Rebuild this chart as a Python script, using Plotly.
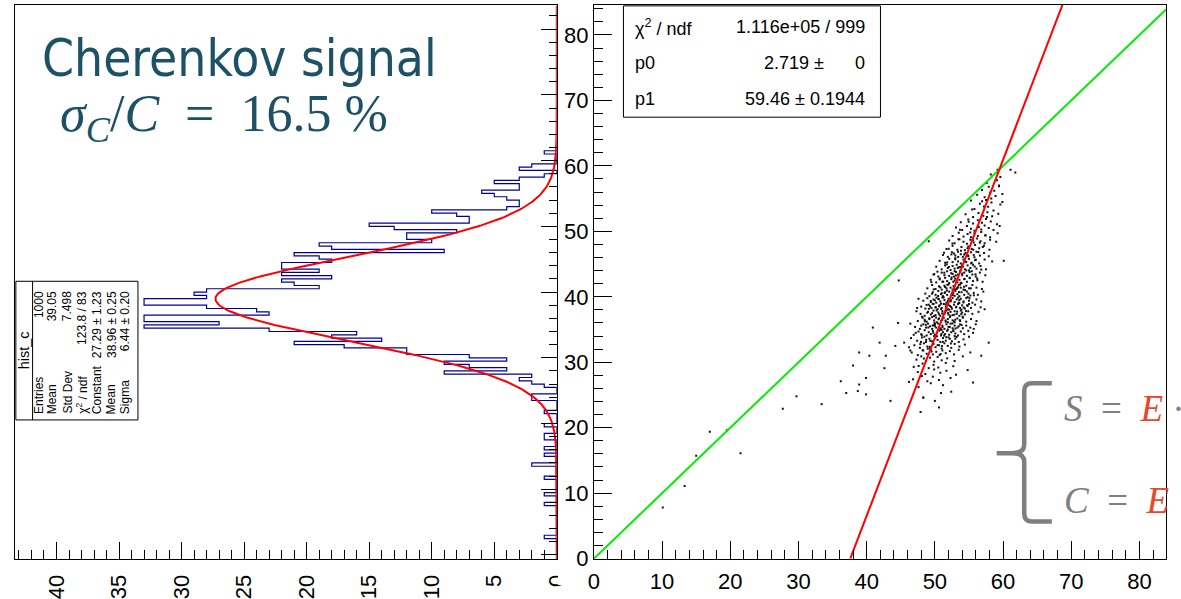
import math
import plotly.graph_objects as go

W, H = 1181, 599

# ---------------------------------------------------------------- data ----
# hist_c : counts per 0.5-wide bin of C, starting at C = 0
bin_width = 0.5
hist_c_counts = [
    0, 0, 0, 0, 0, 1, 0, 0, 0, 0,            # 0.0 - 5.0
    0, 0, 0, 0, 0, 1, 0, 0, 1, 0,            # 5.0 - 10.0
    0, 0, 0, 1, 0, 0, 0, 2, 0, 0,            # 10.0 - 15.0
    1, 0, 1, 0, 0, 1, 1, 0, 0, 1,            # 15.0 - 20.0
    0, 0, 0, 1, 0, 0, 0, 2, 2, 0,            # 20.0 - 25.0
    0, 1, 2, 3, 2, 9, 4, 7, 9, 4,            # 25.0 - 30.0
    7, 12, 12, 17, 21, 14, 18, 16, 23, 33,   # 30.0 - 35.0
    27, 33, 33, 23, 24, 28, 33, 33, 28, 29,  # 35.0 - 40.0
    28, 19, 21, 22, 18, 22, 19, 22, 22, 18,  # 40.0 - 45.0
    19, 21, 9, 18, 19, 10, 12, 12, 8, 13,    # 45.0 - 50.0
    15, 7, 7, 8, 10, 4, 3, 3, 4, 5,          # 50.0 - 55.0
    6, 3, 3, 5, 3, 1, 0, 3, 2, 0,            # 55.0 - 60.0
    0, 0, 1,                                 # 60.0 - 61.5
]

# Gaussian fit of hist_c
gaus_constant, gaus_mean, gaus_sigma = 27.29, 38.96, 6.44

# linear fit of C versus S : C = p0 * (S - p1) + p1
fit_p0, fit_p1 = 2.719, 59.46

# stat box rows
hist_stat_labels = ["Entries", "Mean", "Std Dev", "χ<sup>2</sup> / ndf", "Constant", "Mean", "Sigma"]
hist_stat_values = ["1000", "39.05", "7.498", "123.8 / 83", "27.29 ± 1.23", "38.96 ± 0.25", "6.44 ± 0.20"]

# (S, C) events
sc_points = [
    (10.1, 7.8), (13.3, 11.1), (15.0, 15.7), (17.0, 19.4), (19.5, 19.6), (21.5, 16.1),
    (27.7, 22.9), (29.7, 24.8), (33.4, 23.6), (36.2, 27.1), (37.0, 25.3),
    (38.9, 31.5), (40.4, 31.0), (38.0, 29.5), (39.9, 27.6), (38.9, 26.6), (38.7, 25.6),
    (39.9, 25.1), (42.8, 31.0), (44.2, 32.5), (42.6, 29.1), (43.5, 24.1), (46.2, 27.0),
    (48.3, 24.6), (50.0, 24.1), (46.4, 31.8), (40.9, 35.3), (44.7, 42.5), (45.5, 33.0),
    (49.1, 48.5), (57.9, 33.0), (56.8, 31.0), (54.8, 28.8), (60.1, 45.5), (61.1, 59.4),
    (59.9, 54.5), (59.4, 57.0), (61.8, 59.0), (47.9, 22.4), (50.6, 23.1), (52.4, 25.5),
    (55.6, 26.9), (41.9, 33.0), (44.6, 36.0),
    (48.3, 24.6), (50.9, 25.3),
    (47.6, 26.2), (49.4, 26.8), (51.2, 26.5),
    (46.8, 27.4), (48.9, 27.1), (49.7, 27.8), (50.6, 27.3), (52.3, 27.6), (48.1, 27.9),
    (47.5, 28.5), (48.6, 28.2), (49.9, 28.9), (50.8, 28.4), (51.7, 28.7), (53.1, 28.1),
    (46.9, 29.3), (48.2, 29.8), (49.1, 29.1), (49.8, 29.6), (50.5, 29.2), (51.6, 29.9), (52.7, 29.4),
    (47.3, 30.4), (48.0, 30.9), (48.7, 30.2), (49.3, 30.7), (49.9, 30.1), (50.4, 30.8), (51.0, 30.3),
    (51.8, 30.6), (52.9, 30.2), (54.1, 30.9),
    (46.6, 31.5), (47.5, 31.1), (48.3, 31.8), (48.8, 31.3), (49.4, 31.9), (49.7, 31.2), (50.2, 31.6),
    (50.7, 31.1), (51.1, 31.8), (51.6, 31.4), (52.2, 31.7), (52.8, 31.2), (53.5, 31.9), (55.2, 31.5),
    (47.0, 32.6), (47.8, 32.2), (48.4, 32.9), (48.9, 32.4), (49.3, 32.1), (49.8, 32.8), (50.1, 32.3),
    (50.6, 32.6), (51.0, 32.1), (51.4, 32.9), (51.9, 32.5), (52.4, 32.2), (52.9, 32.8), (53.6, 32.4),
    (54.4, 32.7), (46.2, 32.3),
    (47.4, 33.3), (48.1, 33.8), (48.7, 33.1), (49.2, 33.6), (49.6, 33.2), (50.0, 33.9), (50.4, 33.4),
    (50.8, 33.1), (51.2, 33.7), (51.6, 33.3), (52.0, 33.8), (52.5, 33.2), (53.0, 33.6), (53.5, 33.1),
    (54.2, 33.5), (55.0, 33.9), (46.5, 33.7),
    (46.9, 34.2), (47.6, 34.7), (48.0, 34.3), (48.5, 34.9), (48.8, 34.1), (49.1, 34.6), (49.4, 34.3),
    (49.7, 34.8), (50.0, 34.2), (50.3, 34.5), (50.6, 34.9), (50.9, 34.1), (51.2, 34.6), (51.5, 34.3),
    (51.8, 34.8), (52.1, 34.2), (52.4, 34.6), (52.7, 34.9), (53.0, 34.4), (53.4, 34.1), (53.8, 34.7),
    (54.3, 34.3), (54.9, 34.8), (55.6, 34.5), (47.2, 34.5), (49.9, 34.0), (51.0, 34.95), (52.9, 34.0),
    (47.1, 35.4), (47.8, 35.1), (48.3, 35.8), (48.7, 35.3), (49.0, 35.9), (49.3, 35.5), (49.6, 35.1),
    (49.9, 35.7), (50.2, 35.3), (50.5, 35.9), (50.8, 35.2), (51.1, 35.6), (51.4, 35.1), (51.7, 35.8),
    (52.0, 35.4), (52.3, 35.9), (52.6, 35.2), (52.9, 35.6), (53.3, 35.3), (53.7, 35.8), (54.1, 35.2),
    (54.6, 35.6), (55.2, 35.3), (56.0, 35.8), (48.0, 35.6), (50.0, 35.5), (51.9, 35.0), (53.5, 35.5),
    (46.4, 35.9), (55.7, 35.1),
    (47.5, 36.3), (48.2, 36.8), (48.8, 36.2), (49.2, 36.6), (49.6, 36.9), (49.9, 36.4), (50.3, 36.1),
    (50.6, 36.7), (50.9, 36.3), (51.3, 36.8), (51.6, 36.2), (51.9, 36.6), (52.2, 36.9), (52.6, 36.4),
    (52.9, 36.1), (53.3, 36.7), (53.7, 36.3), (54.1, 36.8), (54.6, 36.2), (55.3, 36.6), (56.1, 36.3),
    (48.5, 36.5), (51.1, 36.5), (53.0, 36.5),
    (47.9, 37.4), (48.5, 37.1), (49.0, 37.7), (49.4, 37.3), (49.8, 37.9), (50.1, 37.2), (50.5, 37.6),
    (50.8, 37.1), (51.1, 37.8), (51.4, 37.4), (51.7, 37.9), (52.0, 37.3), (52.3, 37.7), (52.6, 37.2),
    (52.9, 37.8), (53.2, 37.4), (53.6, 37.1), (54.0, 37.6), (54.4, 37.3), (54.9, 37.8), (55.5, 37.4),
    (56.4, 37.7), (49.6, 37.5), (51.9, 37.55), (53.8, 37.9), (47.3, 37.8),
    (48.0, 38.5), (48.6, 38.2), (49.1, 38.8), (49.5, 38.3), (49.8, 38.9), (50.1, 38.4), (50.4, 38.1),
    (50.7, 38.7), (51.0, 38.3), (51.3, 38.9), (51.6, 38.5), (51.9, 38.1), (52.2, 38.6), (52.5, 38.2),
    (52.8, 38.8), (53.1, 38.4), (53.4, 38.9), (53.7, 38.3), (54.0, 38.7), (54.4, 38.2), (54.8, 38.6),
    (55.3, 38.3), (55.9, 38.8), (56.7, 38.4), (49.3, 38.55), (50.9, 38.95), (52.4, 38.45), (53.9, 38.05),
    (47.4, 38.3), (50.6, 38.55), (52.0, 38.8), (55.0, 38.9), (57.3, 38.1),
    (48.3, 39.4), (48.9, 39.8), (49.4, 39.2), (49.8, 39.6), (50.2, 39.1), (50.5, 39.7), (50.8, 39.3),
    (51.1, 39.9), (51.4, 39.5), (51.7, 39.1), (52.0, 39.7), (52.3, 39.3), (52.6, 39.8), (52.9, 39.2),
    (53.2, 39.6), (53.5, 39.1), (53.8, 39.7), (54.2, 39.3), (54.6, 39.8), (55.0, 39.4), (55.5, 39.1),
    (56.1, 39.6), (56.8, 39.3), (47.6, 39.7), (50.0, 39.45), (51.9, 39.35), (53.6, 39.5), (54.8, 39.95),
    (48.6, 40.5), (49.2, 40.1), (49.7, 40.7), (50.1, 40.3), (50.5, 40.9), (50.9, 40.4), (51.2, 40.1),
    (51.5, 40.7), (51.8, 40.3), (52.1, 40.8), (52.4, 40.2), (52.7, 40.6), (53.0, 40.9), (53.3, 40.4),
    (53.6, 40.1), (53.9, 40.7), (54.3, 40.3), (54.7, 40.8), (55.2, 40.2), (55.7, 40.6), (56.3, 40.3),
    (57.1, 40.8), (51.0, 40.55), (52.9, 40.15),
    (48.9, 41.3), (49.6, 41.8), (50.1, 41.2), (50.6, 41.6), (51.0, 41.1), (51.4, 41.7), (51.7, 41.3),
    (52.0, 41.9), (52.3, 41.4), (52.6, 41.1), (52.9, 41.6), (53.2, 41.2), (53.5, 41.8), (53.8, 41.4),
    (54.2, 41.1), (54.6, 41.7), (55.0, 41.3), (55.5, 41.8), (56.1, 41.4), (56.9, 41.2), (51.5, 41.5),
    (53.4, 41.45),
    (49.4, 42.6), (50.2, 42.2), (50.7, 42.8), (51.1, 42.3), (51.5, 42.9), (51.8, 42.4), (52.1, 42.1),
    (52.4, 42.7), (52.7, 42.3), (53.0, 42.8), (53.3, 42.2), (53.6, 42.6), (53.9, 42.1), (54.3, 42.7),
    (54.7, 42.3), (55.1, 42.9), (55.6, 42.4), (56.2, 42.8), (57.0, 42.3), (52.9, 42.5),
    (49.8, 43.4), (50.5, 43.1), (51.0, 43.7), (51.4, 43.3), (51.8, 43.9), (52.1, 43.2), (52.4, 43.6),
    (52.8, 43.1), (53.1, 43.8), (53.4, 43.4), (53.7, 43.9), (54.0, 43.3), (54.3, 43.7), (54.7, 43.2),
    (55.1, 43.8), (55.5, 43.4), (56.0, 43.1), (56.6, 43.7), (57.4, 43.3), (52.6, 43.5),
    (50.2, 44.6), (51.0, 44.2), (51.5, 44.8), (51.9, 44.4), (52.3, 44.1), (52.6, 44.7), (52.9, 44.3),
    (53.2, 44.9), (53.5, 44.5), (53.8, 44.1), (54.1, 44.6), (54.4, 44.2), (54.8, 44.8), (55.2, 44.4),
    (55.6, 44.9), (56.1, 44.3), (56.7, 44.7), (57.5, 44.2), (53.7, 44.55), (55.0, 44.05),
    (50.7, 45.5), (51.5, 45.2), (52.1, 45.8), (52.6, 45.3), (53.0, 45.9), (53.4, 45.4), (53.8, 45.1),
    (54.2, 45.7), (54.6, 45.3), (55.0, 45.8), (55.4, 45.2), (55.9, 45.6), (56.5, 45.1), (57.3, 45.7),
    (58.4, 45.4),
    (51.2, 46.4), (51.9, 46.1), (52.5, 46.8), (53.0, 46.3), (53.4, 46.9), (53.8, 46.5), (54.1, 46.1),
    (54.5, 46.7), (54.9, 46.2), (55.3, 46.8), (55.7, 46.4), (56.1, 46.9), (56.6, 46.3), (57.2, 46.7),
    (57.9, 46.2), (54.3, 46.45), (55.8, 46.05), (52.8, 46.6),
    (51.7, 47.3), (52.6, 47.8), (53.3, 47.2), (53.9, 47.6), (54.4, 47.1), (54.9, 47.7), (55.4, 47.3),
    (55.9, 47.9), (56.5, 47.4), (57.2, 47.8), (58.0, 47.2),
    (52.1, 48.6), (52.9, 48.2), (53.6, 48.8), (54.2, 48.4), (54.7, 48.1), (55.2, 48.7), (55.7, 48.3),
    (56.2, 48.9), (56.7, 48.5), (57.3, 48.2), (58.1, 48.7), (59.0, 48.4),
    (52.6, 49.3), (53.5, 49.8), (54.2, 49.2), (54.8, 49.6), (55.3, 49.1), (55.8, 49.7), (56.3, 49.3),
    (56.8, 49.9), (57.4, 49.4), (58.1, 49.1), (59.2, 49.7),
    (53.1, 50.6), (54.0, 50.2), (54.7, 50.8), (55.3, 50.4), (55.8, 50.1), (56.3, 50.7), (56.8, 50.3),
    (57.3, 50.9), (57.9, 50.5), (58.6, 50.2), (59.5, 50.8),
    (53.8, 51.4), (54.9, 51.8), (55.6, 51.2), (56.3, 51.7), (56.9, 51.3), (57.5, 51.9), (58.2, 51.5),
    (59.1, 51.1),
    (54.5, 52.6), (55.6, 52.2), (56.4, 52.8), (57.1, 52.4), (57.7, 52.9), (58.4, 52.3), (59.3, 52.7),
    (55.8, 53.4), (57.2, 53.8), (58.6, 53.2),
    (55.3, 54.7), (56.6, 54.2), (57.5, 54.8), (58.3, 54.4), (59.6, 54.1),
    (56.2, 55.6), (57.3, 55.2), (58.1, 55.9), (58.9, 55.4), (59.9, 55.7),
    (56.9, 56.3), (57.9, 56.8), (58.7, 56.2), (59.4, 56.9),
    (57.6, 57.4), (59.1, 57.8),
    (58.2, 58.7), (59.6, 58.3),
    (59.2, 59.4),
    (48.73, 33.42), (50.17, 36.83), (51.36, 34.07), (52.84, 37.26), (49.52, 31.64), (53.41, 39.88),
    (50.93, 38.12), (47.86, 32.77), (54.28, 41.53), (51.77, 40.96), (49.04, 35.31), (52.19, 33.58),
    (53.66, 36.44), (50.48, 40.12), (55.12, 42.86), (48.39, 30.57), (51.03, 32.48), (52.57, 35.93),
    (54.73, 38.71), (50.66, 34.85), (53.08, 43.27), (49.87, 37.06), (51.59, 38.84), (55.84, 44.62),
    (47.62, 29.43), (52.93, 41.17), (50.31, 33.97), (53.92, 35.68), (49.18, 36.72), (54.46, 45.39),
    (51.22, 42.31), (48.07, 34.16), (52.38, 39.47), (50.84, 31.26), (56.37, 46.83), (49.68, 38.93),
    (53.27, 37.74), (51.91, 36.11), (54.92, 40.48), (48.96, 32.08), (52.06, 44.57), (50.02, 35.84),
    (55.41, 43.91), (51.48, 37.62), (53.79, 42.14), (49.33, 33.29), (52.71, 34.76), (50.59, 39.63),
    (54.08, 36.97), (48.54, 36.28), (51.84, 41.82), (53.14, 38.49), (55.63, 47.18), (50.26, 37.91),
    (52.47, 42.96), (49.76, 34.51), (54.61, 44.03), (51.12, 35.37), (53.53, 40.72), (48.21, 31.84),
    (56.02, 45.67), (50.79, 41.44), (52.26, 37.09), (49.41, 39.36), (54.19, 39.14), (51.67, 33.83),
    (53.36, 44.42), (50.41, 32.62), (55.27, 41.29), (48.88, 37.57), (52.81, 36.24), (51.29, 39.92),
    (54.87, 46.31), (49.94, 36.05), (53.71, 41.88), (50.97, 34.34), (52.63, 40.27), (47.97, 33.11),
    (55.96, 43.44), (51.38, 43.68), (53.02, 35.15), (49.59, 40.47), (54.36, 42.73), (50.13, 38.38),
    (52.34, 32.87), (56.58, 48.26), (51.73, 44.95), (53.87, 37.39), (48.67, 35.73), (55.08, 39.79),
    (50.53, 36.57), (52.98, 45.73), (49.26, 32.36), (54.57, 37.82), (51.97, 39.24), (53.42, 46.09),
    (50.71, 42.67), (48.13, 36.94), (57.03, 47.61), (52.12, 38.03), (49.83, 41.13), (54.01, 43.56),
    (51.56, 36.38), (53.18, 33.87), (55.71, 40.23), (50.37, 43.84), (52.74, 41.62), (49.12, 38.17),
    (54.79, 47.42), (51.08, 37.46), (53.58, 39.06), (48.46, 33.91), (56.24, 42.53), (50.88, 35.02),
    (52.42, 46.48), (49.69, 35.62), (55.33, 45.12), (51.43, 40.58), (53.96, 44.78), (50.06, 33.68),
    (57.42, 49.37), (52.19, 35.41), (49.47, 42.24), (54.24, 38.36), (51.81, 45.27), (53.29, 41.39),
    (50.62, 37.33), (55.59, 48.64), (48.79, 38.76), (52.89, 43.91), (51.17, 33.12), (53.84, 47.02),
    (50.23, 39.87), (56.81, 44.16), (49.91, 43.46), (54.42, 41.02), (52.58, 48.13), (51.34, 46.72),
    (53.67, 50.24), (55.19, 49.82), (52.03, 47.35), (54.96, 51.46), (56.45, 50.67), (53.45, 48.81),
    (57.64, 52.18), (55.47, 53.32), (56.93, 54.61), (58.27, 55.03), (57.81, 53.74),
]

# ------------------------------------------------------------- layout ----
SANS = "Liberation Sans, Arial, Helvetica, sans-serif"
SERIF = "Liberation Serif, Times New Roman, serif"
TITLE_FONT = "DejaVu Sans Condensed, DejaVu Sans, Verdana, sans-serif"
TEAL = "#1d5266"
GREY = "#7f7f7f"
ORANGE = "#e8472a"

# pad frames, in pixels of the canvas
LEFT_PAD = dict(x0=9.5, x1=559.3, y0=5.6, y1=572.3)
RIGHT_PAD = dict(x0=597.0, x1=1178.0, y0=5.0, y1=572.0)

left_count_max = 43.29
left_c_range = [-0.6, 83.6]
right_s_range = [0, 83.9]
right_c_range = [0, 84.6]


def px(x):
    return x / W


def py(y):
    return 1 - y / H


fig = go.Figure()

# rotated histogram as a step outline
hx, hy = [0], [0.0]
for i, c in enumerate(hist_c_counts):
    hx.append(c)
    hy.append((i + 1) * bin_width)
hx.append(0)
hy.append(len(hist_c_counts) * bin_width)
fig.add_trace(go.Scatter(
    x=hx, y=hy, mode="lines", line=dict(color="#000099", width=1.2, shape="hv"),
    xaxis="x", yaxis="y", hoverinfo="skip", showlegend=False))

# Gaussian fit curve
n_curve = 600
gy = [left_c_range[0] + (left_c_range[1] - left_c_range[0]) * k / (n_curve - 1) for k in range(n_curve)]
gx = [gaus_constant * math.exp(-0.5 * ((v - gaus_mean) / gaus_sigma) ** 2) for v in gy]
fig.add_trace(go.Scatter(
    x=gx, y=gy, mode="lines", line=dict(color="#ff0000", width=2),
    xaxis="x", yaxis="y", hoverinfo="skip", showlegend=False))

# scatter of C versus S
fig.add_trace(go.Scatter(
    x=[p[0] for p in sc_points], y=[p[1] for p in sc_points], mode="markers",
    marker=dict(color="#111111", size=2, symbol="square", line=dict(width=0)),
    xaxis="x2", yaxis="y2", hoverinfo="skip", showlegend=False))

# diagonal S = C
fig.add_trace(go.Scatter(
    x=[0, right_s_range[1]], y=[0, right_s_range[1]], mode="lines",
    line=dict(color="#00ee00", width=2), xaxis="x2", yaxis="y2",
    hoverinfo="skip", showlegend=False))

# linear fit
s_lo = fit_p1 - fit_p1 / fit_p0
s_hi = fit_p1 + (right_c_range[1] - fit_p1) / fit_p0
fig.add_trace(go.Scatter(
    x=[s_lo, s_hi], y=[fit_p0 * (s_lo - fit_p1) + fit_p1, fit_p0 * (s_hi - fit_p1) + fit_p1],
    mode="lines", line=dict(color="#ff0000", width=2), xaxis="x2", yaxis="y2",
    hoverinfo="skip", showlegend=False))

axis_common = dict(showgrid=False, zeroline=False, showline=True, linecolor="black",
                   linewidth=1, mirror=True, ticks="inside", tickcolor="black",
                   tickwidth=1, tickfont=dict(family=SANS, size=22, color="black"))

fig.update_layout(
    width=W, height=H, margin=dict(l=0, r=0, t=0, b=0),
    paper_bgcolor="white", plot_bgcolor="white", showlegend=False,
    xaxis=dict(domain=[px(LEFT_PAD["x0"]), px(LEFT_PAD["x1"])], range=[left_count_max, 0],
               anchor="y", tickmode="linear", tick0=0, dtick=5, ticklen=17, tickangle=-90,
               ticklabelstandoff=6,
               minor=dict(dtick=1, ticklen=9, ticks="inside", tickcolor="black", showgrid=False),
               **axis_common),
    yaxis=dict(domain=[py(LEFT_PAD["y1"]), py(LEFT_PAD["y0"])], range=left_c_range,
               anchor="x", side="right", tickmode="linear", tick0=0, dtick=10, ticklen=16,
               showticklabels=False,
               minor=dict(dtick=2, ticklen=8, ticks="inside", tickcolor="black", showgrid=False),
               **axis_common),
    xaxis2=dict(domain=[px(RIGHT_PAD["x0"]), px(RIGHT_PAD["x1"])], range=right_s_range,
                anchor="y2", tickmode="linear", tick0=0, dtick=10, ticklen=18,
                ticklabelstandoff=3,
                minor=dict(dtick=2, ticklen=9, ticks="inside", tickcolor="black", showgrid=False),
                **axis_common),
    yaxis2=dict(domain=[py(RIGHT_PAD["y1"]), py(RIGHT_PAD["y0"])], range=right_c_range,
                anchor="x2", tickmode="linear", tick0=0, dtick=10, ticklen=18,
                minor=dict(dtick=2, ticklen=9, ticks="inside", tickcolor="black", showgrid=False),
                **axis_common),
)

shapes = []
annotations = []


def box(x0, y0, x1, y1, fill="white", line="black", width=1):
    shapes.append(dict(type="rect", xref="paper", yref="paper", x0=px(x0), x1=px(x1),
                       y0=py(y1), y1=py(y0), fillcolor=fill, layer="above",
                       line=dict(color=line, width=width)))


def seg(x0, y0, x1, y1, color="black", width=1):
    shapes.append(dict(type="line", xref="paper", yref="paper", x0=px(x0), x1=px(x1),
                       y0=py(y0), y1=py(y1), layer="above", line=dict(color=color, width=width)))


def text(x, y, s, size, xa="left", ya="middle", angle=0, color="black", family=SANS):
    annotations.append(dict(x=px(x), y=py(y), xref="paper", yref="paper", text=s,
                            showarrow=False, xanchor=xa, yanchor=ya, textangle=angle,
                            font=dict(size=size, color=color, family=family)))


# half of the left pad's "0" label is hidden by the neighbouring pad
box(560.5, 574, 571, 599, fill="white", line="white", width=0)

# hist_c statistics box (rotated with its pad)
box(10, 288, 134, 430)
seg(27, 288, 27, 430)
text(18, 359, "hist_c", 14.5, xa="center", ya="middle", angle=-90)
row_x = [33, 47, 62, 77, 92, 107, 121]
for xr, lab, val in zip(row_x, hist_stat_labels, hist_stat_values):
    text(xr, 426, lab, 12, xa="center", ya="bottom", angle=-90)
    text(xr, 296, val, 12, xa="center", ya="top", angle=-90)

# linear-fit statistics box
box(627, 6, 888, 120)
text(637, 28, "χ<sup>2</sup> / ndf", 18)
text(874, 28, "1.116e+05 / 999", 18, xa="right")
text(637, 64, "p0", 18)
text(833, 64, "2.719 ±", 18, xa="right")
text(874, 64, "0", 18, xa="right")
text(637, 101, "p1", 18)
text(874, 101, "59.46 ± 0.1944", 18, xa="right")

# headline
text(35, 60, "Cherenkov signal", 51, color=TEAL, family=TITLE_FONT)
text(53, 120, "<i>σ</i><sub><i>C</i></sub>/<i>C</i>\u00a0\u00a0=\u00a0\u00a016.5 %", 52,
     color=TEAL, family=SERIF)

# brace with the S and C definitions
brace_px = [("M", 1062, 392.5), ("L", 1042, 392.5), ("Q", 1034, 392.5, 1034, 400),
            ("L", 1034, 455), ("Q", 1034, 464, 1022, 464), ("L", 1006, 464),
            ("M", 1006, 464), ("L", 1022, 464), ("Q", 1034, 464, 1034, 473),
            ("L", 1034, 526), ("Q", 1034, 534, 1042, 534), ("L", 1062, 534)]
path = ""
for cmd in brace_px:
    pts = cmd[1:]
    coords = []
    for k in range(0, len(pts), 2):
        coords.append(f"{px(pts[k]):.5f},{py(pts[k + 1]):.5f}")
    path += cmd[0] + " ".join(coords) + " "
shapes.append(dict(type="path", path=path.strip(), xref="paper", yref="paper",
                   layer="above", line=dict(color=GREY, width=4.5)))

eq_s = (f"<i>S</i>\u00a0\u00a0=\u00a0\u00a0<span style='color:{ORANGE}'><i>E</i></span>"
        "\u00a0·")
eq_c = (f"<i>C</i>\u00a0\u00a0=\u00a0\u00a0<span style='color:{ORANGE}'><i>E</i></span>"
        "\u00a0·")
text(1072, 418, eq_s, 37, color=GREY, family=SERIF)
text(1072, 512, eq_c, 37, color=GREY, family=SERIF)

fig.update_layout(shapes=shapes, annotations=annotations)

fig.write_html("out.html")
